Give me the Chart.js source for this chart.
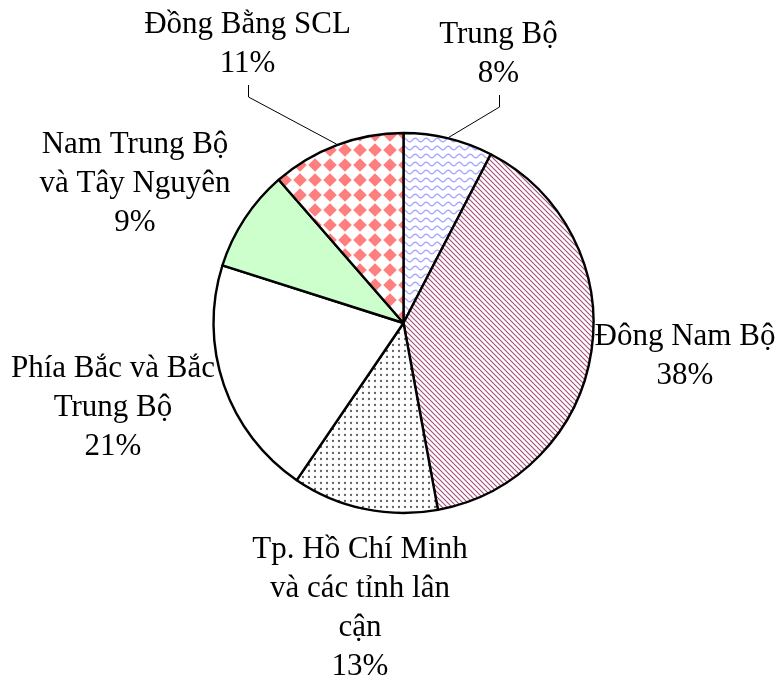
<!DOCTYPE html>
<html><head><meta charset="utf-8">
<script src="https://cdn.jsdelivr.net/npm/chart.js@4"></script>
<style>html,body{margin:0;padding:0;background:#fff;}#wrap{width:781px;height:682px;position:relative;}</style>
</head><body><div id="wrap"><canvas id="c" width="781" height="682"></canvas></div>
<script>
// ---- data ----
const categories = [
  ["Trung Bộ"],
  ["Đông Nam Bộ"],
  ["Tp. Hồ Chí Minh", "và các tỉnh lân", "cận"],
  ["Phía Bắc và Bắc", "Trung Bộ"],
  ["Nam Trung Bộ", "và Tây Nguyên"],
  ["Đồng Bằng SCL"]
];
const shares = [7.6, 39.5, 12.4, 20.4, 8.7, 11.4];          // slice sizes
const percentLabels = ["8%", "38%", "13%", "21%", "9%", "11%"]; // printed labels

// ---- styling / layout (not data) ----
const LH = 39;
const labelLayout = [
  {dx: 95,     dy: -280, leader: true},
  {dx: 281.5,  dy: 22},
  {dx: -43.5,  dy: 235},
  {dx: -290.5, dy: 54},
  {dx: -268.5, dy: -170},
  {dx: -156,   dy: -290, leader: true}
];

function makePattern(w, h, draw) {
  const c = document.createElement('canvas');
  c.width = w; c.height = h;
  const g = c.getContext('2d');
  g.fillStyle = '#fff'; g.fillRect(0, 0, w, h);
  draw(g, w, h);
  return document.getElementById('c').getContext('2d').createPattern(c, 'repeat');
}
const wave = makePattern(11, 8, (g, w, h) => {
  g.strokeStyle = '#a8a8ff'; g.lineWidth = 1.4;
  g.beginPath();
  for (let x = -1; x <= w + 1; x += 0.5) {
    const y = 4 + 1.8 * Math.sin(2 * Math.PI * x / w);
    if (x === -1) g.moveTo(x, y); else g.lineTo(x, y);
  }
  g.stroke();
});
const stripes = makePattern(5, 5, (g) => {
  g.strokeStyle = '#a8507c'; g.lineWidth = 1.15;
  g.beginPath();
  for (let o = -10; o <= 10; o += 5) { g.moveTo(o - 1, -1); g.lineTo(o + 6, 6); }
  g.stroke();
});
const dots = makePattern(6, 6, (g) => {
  g.fillStyle = '#606060';
  g.beginPath(); g.arc(3, 3, 1.15, 0, Math.PI * 2); g.fill();
});
const diamonds = makePattern(15, 15, (g) => {
  g.fillStyle = '#ff7f7f';
  const pts = [[0,0],[15,0],[0,15],[15,15]];
  const hd = 6.8;
  pts.forEach(([x, y]) => {
    g.beginPath(); g.moveTo(x, y - hd); g.lineTo(x + hd, y); g.lineTo(x, y + hd); g.lineTo(x - hd, y); g.closePath(); g.fill();
  });
});
const fills = [wave, stripes, dots, '#ffffff', '#ccffcc', diamonds];

const labelPlugin = {
  id: 'sliceLabels',
  afterDatasetsDraw(chart) {
    const ctx = chart.ctx;
    const meta = chart.getDatasetMeta(0);
    ctx.save();
    ctx.font = '31px "Liberation Serif"';
    ctx.textAlign = 'center';
    ctx.textBaseline = 'alphabetic';
    ctx.fillStyle = '#000';
    meta.data.forEach((arc, i) => {
      const p = arc.getProps(['x', 'y', 'startAngle', 'endAngle', 'outerRadius'], true);
      const lay = labelLayout[i];
      const lx = p.x + lay.dx, ly = p.y + lay.dy;
      const lines = categories[i].concat([percentLabels[i]]);
      lines.forEach((t, k) => ctx.fillText(t, lx, ly + k * LH));
      if (lay.leader) {
        const mid = (p.startAngle + p.endAngle) / 2;
        const r = p.outerRadius + 1;
        const px = p.x + r * Math.cos(mid), py = p.y + r * Math.sin(mid);
        const bottom = ly + (lines.length - 1) * LH + 13;
        ctx.strokeStyle = '#000'; ctx.lineWidth = 1;
        ctx.beginPath();
        ctx.moveTo(Math.round(lx) + 0.5, bottom);
        ctx.lineTo(Math.round(lx) + 0.5, bottom + 12);
        ctx.lineTo(px, py);
        ctx.stroke();
      }
    });
    ctx.restore();
  }
};

new Chart(document.getElementById('c'), {
  type: 'pie',
  data: {
    labels: categories.map(c => c.join(' ')),
    datasets: [{
      data: shares,
      backgroundColor: fills,
      borderColor: '#000',
      borderWidth: 2.4
    }]
  },
  options: {
    responsive: false,
    animation: false,
    radius: 190,
    layout: {padding: {left: 26, right: 0, top: 0, bottom: 36}},
    plugins: {legend: {display: false}, tooltip: {enabled: false}}
  },
  plugins: [labelPlugin]
});
</script>
</body></html>
